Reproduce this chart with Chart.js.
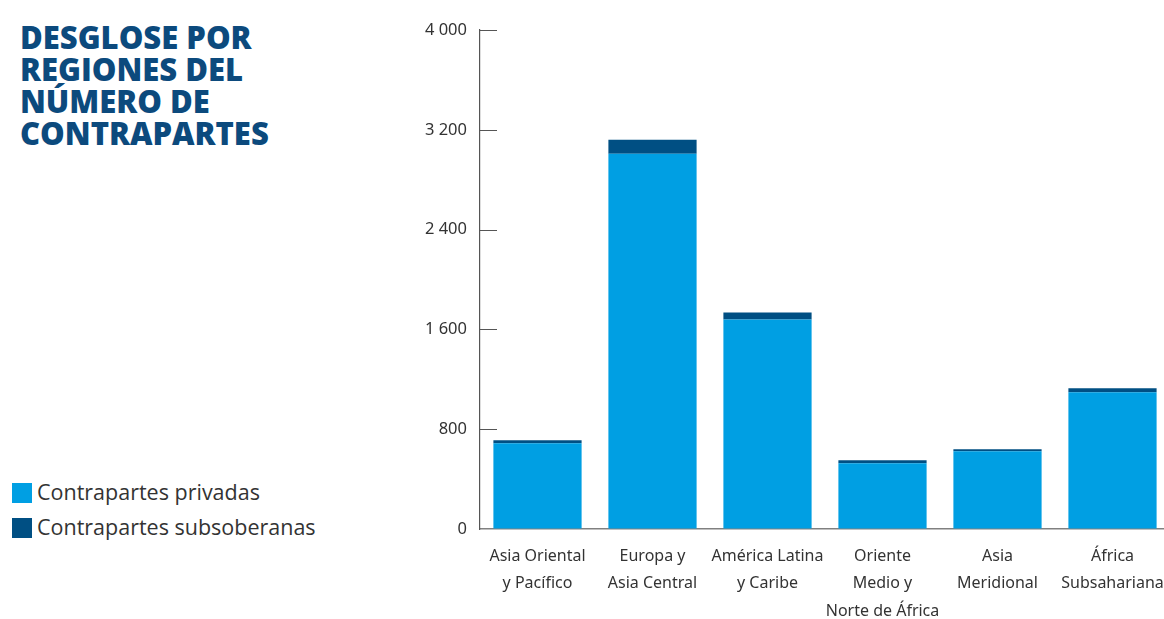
<!DOCTYPE html>
<html>
<head>
<meta charset="utf-8">
<script src="https://cdn.jsdelivr.net/npm/chart.js@4"></script>
<style>
  body { margin: 0; background: #fff; }
  #wrap { position: relative; width: 1164px; height: 619px; overflow: hidden; }
  #titulo {
    position: absolute; left: 20px; top: 21px;
    font: 800 31px/32px "Open Sans", sans-serif; color: #0c4a7d;
  }
  #leyenda { position: absolute; left: 12px; top: 474px; font: 21.5px/35px "Open Sans", sans-serif; color: #333; }
  #leyenda div { height: 35px; white-space: nowrap; }
  #leyenda span.box { display: inline-block; width: 20px; height: 20px; vertical-align: -3px; margin-right: 5px; }
  canvas { position: absolute; left: 0; top: 0; }
</style>
</head>
<body>
<div id="wrap">
  <div id="titulo">DESGLOSE POR<br>REGIONES DEL<br>NÚMERO DE<br>CONTRAPARTES</div>
  <div id="leyenda"></div>
  <canvas id="grafica" width="1170" height="619"></canvas>
</div>
<script>
// datos
const regiones = [
  ['Asia Oriental', 'y Pacífico'],
  ['Europa y', 'Asia Central'],
  ['América Latina', 'y Caribe'],
  ['Oriente', 'Medio y', 'Norte de África'],
  ['Asia', 'Meridional'],
  ['África', 'Subsahariana']
];
const privadas = [688, 3008, 1680, 528, 624, 1096];
const subsoberanas = [24, 112, 56, 24, 16, 32];
const nombresSeries = ['Contrapartes privadas', 'Contrapartes subsoberanas'];
const colores = ['#009fe3', '#004f83'];

// leyenda en html
const ley = document.getElementById('leyenda');
nombresSeries.forEach((n, i) => {
  const d = document.createElement('div');
  d.innerHTML = '<span class="box" style="background:' + colores[i] + '"></span>' + n;
  ley.appendChild(d);
});

// marcas cortas del eje y hacia dentro
const marcasY = {
  id: 'marcasY',
  afterDraw(chart) {
    const y = chart.scales.y, ctx = chart.ctx, izq = chart.chartArea.left;
    ctx.save();
    ctx.strokeStyle = '#555';
    ctx.lineWidth = 1;
    y.ticks.forEach((t, i) => {
      if (t.value === 0) return;
      const py = Math.round(y.getPixelForTick(i)) + 0.5;
      ctx.beginPath();
      ctx.moveTo(izq, py);
      ctx.lineTo(izq + 17, py);
      ctx.stroke();
    });
    ctx.restore();
  }
};

const fuenteEje = { family: '"Noto Sans", sans-serif', size: 16 };

new Chart(document.getElementById('grafica').getContext('2d'), {
  type: 'bar',
  data: {
    labels: regiones,
    datasets: [{
      label: nombresSeries[0],
      data: privadas,
      backgroundColor: colores[0],
      barPercentage: 0.767,
      categoryPercentage: 1
    }, {
      label: nombresSeries[1],
      data: subsoberanas,
      backgroundColor: colores[1],
      barPercentage: 0.767,
      categoryPercentage: 1
    }]
  },
  options: {
    responsive: false,
    animation: false,
    layout: { padding: { left: 400, top: 30, right: 0, bottom: 0 } },
    plugins: { legend: { display: false }, tooltip: { enabled: false } },
    scales: {
      x: {
        stacked: true,
        grid: { display: false },
        border: { color: '#808080', width: 1.5 },
        ticks: { color: '#333', font: { ...fuenteEje, lineHeight: 1.7 }, padding: 6, maxRotation: 0, autoSkip: false },
        afterFit(s) { s.height = 90; s.paddingLeft = 0; s.paddingRight = 0; }
      },
      y: {
        stacked: true,
        min: 0, max: 4000,
        grid: { drawOnChartArea: false, drawTicks: false },
        border: { color: '#555', width: 1.2 },
        ticks: {
          stepSize: 800, color: '#333', font: { ...fuenteEje, size: 16.5 }, padding: 13,
          callback: v => v >= 1000 ? Math.floor(v / 1000) + ' ' + String(v % 1000).padStart(3, '0') : String(v)
        },
        afterFit(s) { s.width = 80; }
      }
    }
  },
  plugins: [marcasY]
});
</script>
</body>
</html>
